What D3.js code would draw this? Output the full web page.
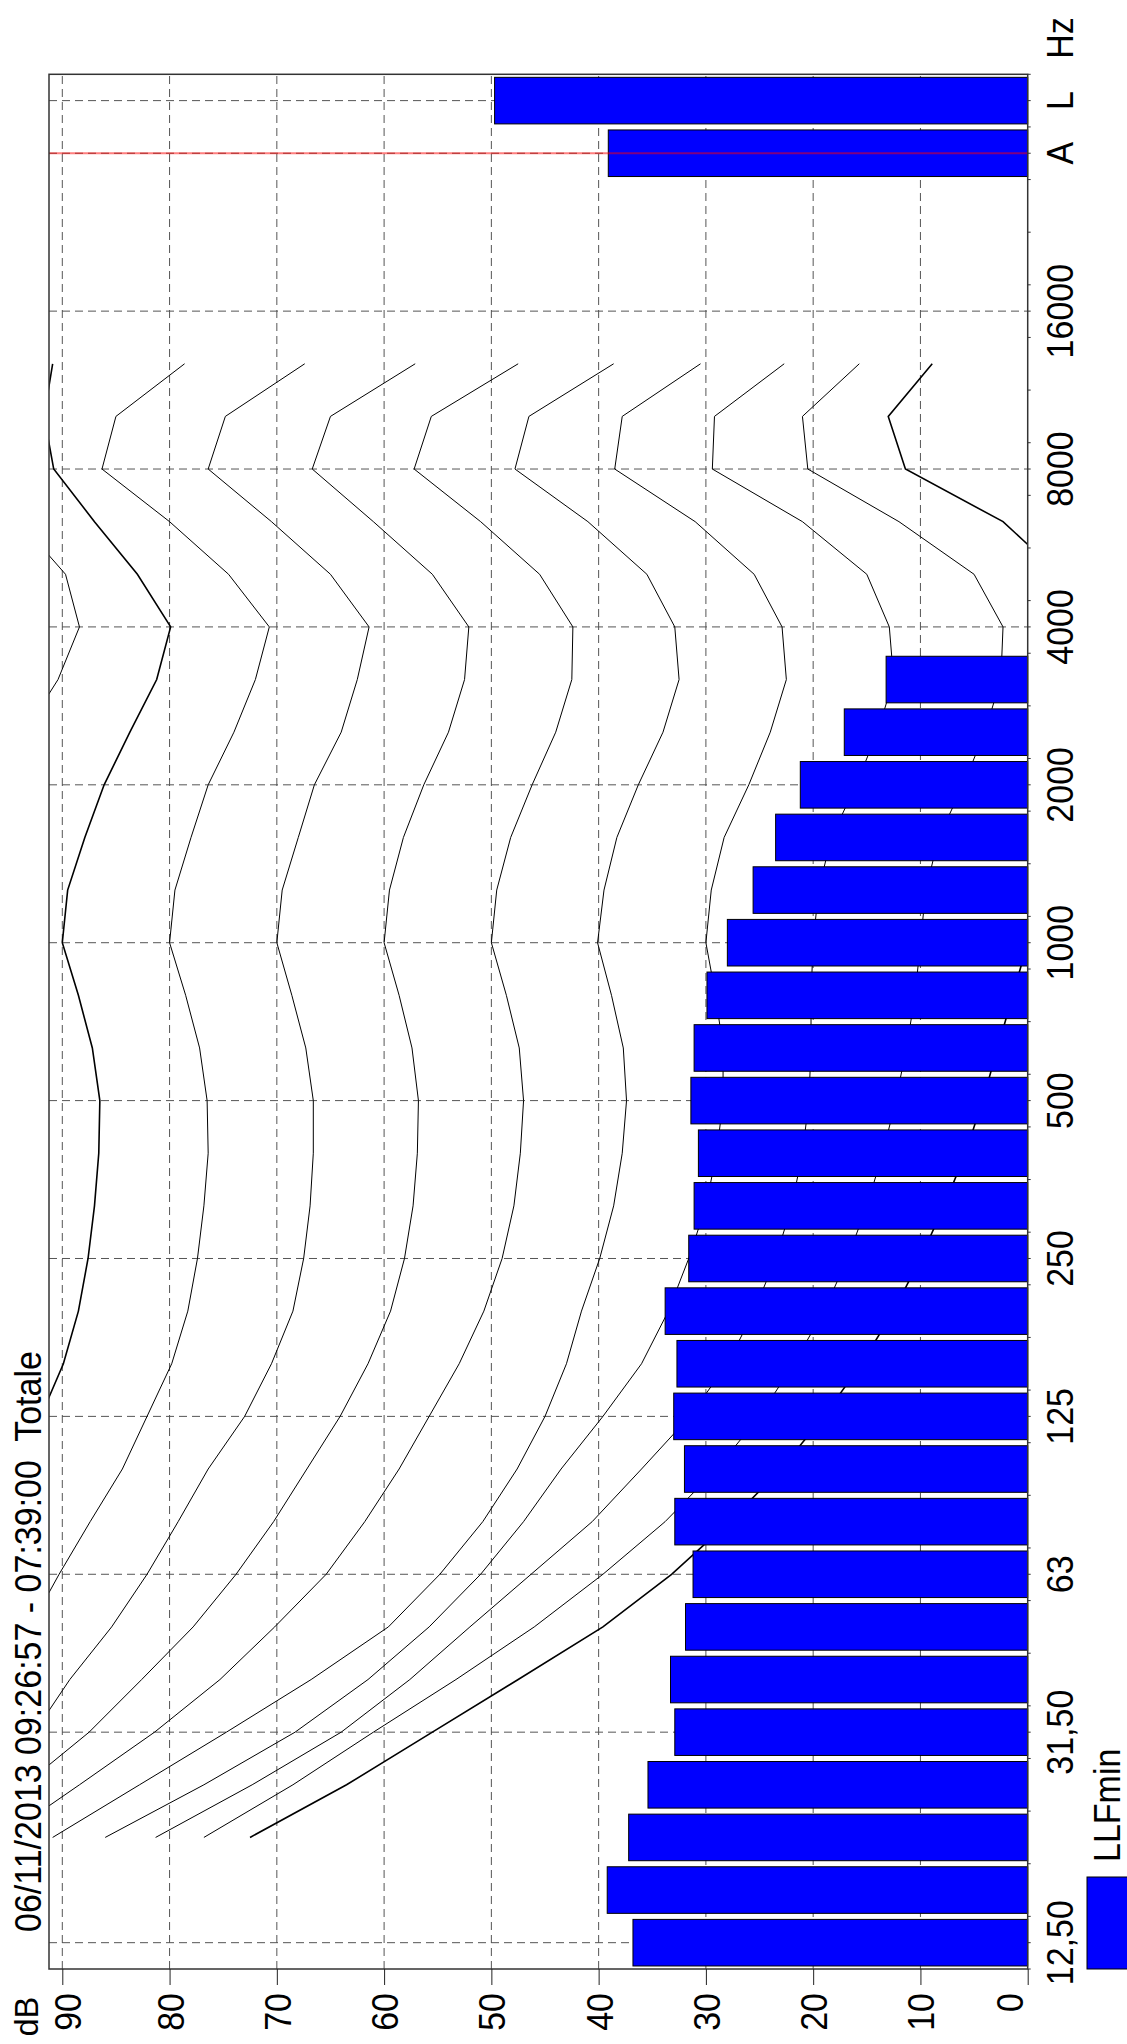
<!DOCTYPE html>
<html lang="it">
<head>
<meta charset="UTF-8">
<title>LLFmin</title>
<script src="https://d3js.org/d3.v7.min.js"></script>
<style>
  body { margin: 0; background: #fff; }
  svg { display: block; }
  text { font-family: "Liberation Sans", Arial, sans-serif; fill: #000; }
</style>
</head>
<body>
<svg id="chart" width="1127" height="2044"></svg>
<script>
// bande in terzi d'ottava: indice 0 = 12,5 Hz ... 31 = 16000 Hz, 34 = A, 35 = L
const bandLabels = ['12,50', '31,50', '63', '125', '250', '500', '1000', '2000', '4000', '8000', '16000', 'A', 'L'];
const bandIndex = [0, 4, 7, 10, 13, 16, 19, 22, 25, 28, 31, 34, 35];
const dbTicks = [0, 10, 20, 30, 40, 50, 60, 70, 80, 90];

// LLFmin, 12,5 Hz .. 3150 Hz
const llfMin = [36.8, 39.2, 37.2, 35.4, 32.9, 33.3, 31.9, 31.2, 32.9, 32.0, 33.0, 32.7, 33.8,
                31.6, 31.1, 30.7, 31.4, 31.1, 29.9, 28.0, 25.6, 23.5, 21.2, 17.1, 13.2];
const totalLabels = ['A', 'L'];
const totalValues = [39.1, 49.7];

// isofoniche, 20 Hz .. 12500 Hz (indici 2..30)
const iso0   = [72.5, 63.5, 55.5, 47.5, 39.6, 33.2, 27.8, 23, 19, 15.5, 12.5, 10, 7.8, 5.8, 4.2, 2.8, 1.4, 0, -0.5, -1.7, -4, -6, -7.5, -8, -3, 2.3, 11.4, 13, 8.9];
const iso10  = [76.8, 68.5, 61, 53.3, 46, 39.6, 33.8, 29, 25, 21.8, 19, 16.8, 15, 13.5, 12.3, 11.3, 10.5, 10, 9.5, 8.3, 6, 4, 2.5, 2.3, 5, 12, 20.5, 21, 15.7];
const iso20  = [81.3, 72.3, 64, 57.6, 52, 46.3, 40.6, 36, 31.5, 28, 25.5, 23.5, 22, 21, 20.4, 20.2, 20.2, 20, 19.5, 18.3, 16, 14, 12.5, 12.9, 15, 21, 29.4, 29.2, 22.7];
const iso30  = [86, 76.8, 68.3, 61.5, 55.8, 51, 47, 43.5, 39.6, 36, 33.5, 31.6, 30, 29, 28.4, 28.4, 29.1, 30, 29.5, 28.3, 26, 24, 22.5, 22.9, 25.5, 31, 38.5, 37.8, 30.5];
const iso40  = [90.9, 82.8, 74.7, 66.8, 59.6, 54.8, 50.8, 47.6, 45, 43, 41.6, 39.9, 38.6, 37.8, 37.4, 37.7, 38.8, 40.1, 39.5, 38.3, 36.3, 34, 32.5, 32.9, 35.5, 41, 47.8, 46.5, 38.6];
const iso50  = [95.5, 88.4, 81.4, 75.3, 70.2, 65.4, 61.8, 58.6, 55.8, 53, 50.7, 49, 47.9, 47.3, 47, 47.4, 48.6, 50, 49.5, 48.2, 46.2, 44, 42.5, 42.4, 45.5, 51, 57.2, 55.6, 47.5];
const iso60  = [99, 93.5, 87.5, 82.6, 77.8, 73.8, 70.3, 67.2, 64.1, 61.5, 59.4, 58.1, 57.3, 56.9, 56.8, 57.4, 58.6, 60, 59.5, 58.2, 56.3, 54, 52.5, 52.1, 55.5, 61, 66.7, 65, 57.1];
const iso70  = [100, 96, 92.6, 89.3, 85.4, 82.1, 79.2, 76.4, 73, 70.5, 68.5, 67.5, 66.9, 66.6, 66.6, 67.3, 68.6, 70, 69.5, 68, 66.5, 64, 62.5, 61.4, 65, 70.5, 76.4, 74.8, 67.4];
const iso80  = [110, 105, 100, 96, 93, 90.3, 87.4, 84.4, 82.1, 79.8, 78.3, 77.4, 76.8, 76.4, 76.5, 77.2, 78.5, 80, 79.5, 78, 76.4, 74, 72, 70.7, 74.5, 80, 86.3, 85, 78.6];
const iso90  = [116, 112, 107, 103, 100, 98, 96, 94, 92, 89.9, 88.5, 87.6, 87, 86.6, 86.5, 87.2, 88.5, 90, 89.5, 87.9, 86.1, 83.7, 81.2, 79.9, 83, 87, 90.8, 91.7, 90.9];
const iso100 = [122, 118, 114, 110, 107, 105, 103, 101, 100, 99, 98, 97.5, 97, 96.5, 96.4, 97, 98.5, 100, 99.5, 98, 96, 93.5, 90.4, 88.4, 89.7, 94, 98, 100, 100];
const contours = [iso0, iso10, iso20, iso30, iso40, iso50, iso60, iso70, iso80, iso90, iso100];

// il grafico viene disegnato "in piano" e poi ruotato di -90 gradi
const W = 2044;
const plot = { left: 75, right: 1969.7, top: 49, bottom: 1027.7 };

const x = d3.scaleLinear().domain([-0.5, 35.5]).range([plot.left, plot.right]);
const y = d3.scaleLinear().domain([0, 91.24]).range([plot.bottom, plot.top]);
const bw = (x(1) - x(0)) * 0.885;

const svg = d3.select('#chart');
svg.append('rect').attr('width', 1127).attr('height', 2044).attr('fill', '#fff');

const g = svg.append('g').attr('transform', `translate(0,${W}) rotate(-90)`);

g.append('clipPath').attr('id', 'clip')
  .append('rect')
  .attr('x', plot.left).attr('y', plot.top)
  .attr('width', plot.right - plot.left).attr('height', plot.bottom - plot.top);

// griglia
g.append('g').selectAll('line').data(dbTicks.slice(1)).join('line')
  .attr('x1', plot.left).attr('x2', plot.right)
  .attr('y1', d => y(d)).attr('y2', d => y(d))
  .attr('stroke', '#555').attr('stroke-dasharray', '8,5');
g.append('g').selectAll('line').data(bandIndex).join('line')
  .attr('x1', d => x(d)).attr('x2', d => x(d))
  .attr('y1', plot.top).attr('y2', plot.bottom)
  .attr('stroke', '#555').attr('stroke-dasharray', '8,5');

// isofoniche
const line = d3.line().x((d, i) => x(i + 2)).y(d => y(d));
g.append('g').attr('clip-path', 'url(#clip)')
  .selectAll('path').data(contours).join('path')
  .attr('d', line)
  .attr('fill', 'none')
  .attr('stroke', '#000')
  .attr('stroke-width', (d, i) => (i === 0 || i === 9) ? 1.6 : 1);

// barre
g.append('g').selectAll('rect').data(llfMin).join('rect')
  .attr('x', (d, i) => x(i) - bw / 2)
  .attr('width', bw)
  .attr('y', d => y(d))
  .attr('height', d => y(0) - y(d))
  .attr('fill', '#0000ff').attr('stroke', '#000').attr('stroke-width', 1);
g.append('g').selectAll('rect').data(totalValues).join('rect')
  .attr('x', (d, i) => x(bandIndex[bandLabels.indexOf(totalLabels[i])]) - bw / 2)
  .attr('width', bw)
  .attr('y', d => y(d))
  .attr('height', d => y(0) - y(d))
  .attr('fill', '#0000ff').attr('stroke', '#000').attr('stroke-width', 1);

// linea rossa sulla banda A
g.append('line')
  .attr('x1', x(34)).attr('x2', x(34))
  .attr('y1', plot.top).attr('y2', plot.bottom)
  .attr('stroke', 'rgba(255,0,0,0.5)').attr('stroke-width', 2);

// cornice
g.append('rect')
  .attr('x', plot.left).attr('y', plot.top)
  .attr('width', plot.right - plot.left).attr('height', plot.bottom - plot.top)
  .attr('fill', 'none').attr('stroke', '#333').attr('stroke-width', 1.5);

// asse dB
const yAxis = g.append('g').attr('transform', `translate(${plot.left},0)`)
  .call(d3.axisLeft(y).tickValues(dbTicks).tickSize(16).tickPadding(8).tickFormat(d3.format('d')));
yAxis.select('.domain').remove();
yAxis.selectAll('.tick line').attr('stroke', '#222');
yAxis.selectAll('.tick text')
  .attr('font-size', 34)
  .attr('font-family', '"Liberation Sans", Arial, sans-serif')
  .attr('dy', '0.36em')
  .attr('transform', d => `translate(0,${d === 0 ? -19 : d === 90 ? 5 : 0}) scale(1,1.1)`);

g.append('text').text('dB')
  .attr('text-anchor', 'end').attr('font-size', 32)
  .attr('transform', 'translate(47,38) scale(1,1.05)');

// tacche piccole sull'asse delle frequenze
const smallTicks = d3.range(-0.5, 36, 1).concat(bandIndex);
g.append('g').selectAll('line').data(smallTicks).join('line')
  .attr('x1', d => x(d)).attr('x2', d => x(d))
  .attr('y1', plot.bottom).attr('y2', plot.bottom + 3)
  .attr('stroke', '#333');

// etichette frequenze
g.append('g').selectAll('text').data(bandLabels).join('text')
  .text(d => d)
  .attr('text-anchor', 'middle')
  .attr('font-size', 34)
  .attr('transform', (d, i) => `translate(${x(bandIndex[i])},1073) scale(1,1.1)`);
g.append('text').text('Hz')
  .attr('text-anchor', 'middle').attr('font-size', 34)
  .attr('transform', 'translate(2006,1073) scale(1,1.1)');

// titolo
g.append('text').text('06/11/2013 09:26:57 - 07:39:00  Totale')
  .attr('font-size', 34)
  .style('white-space', 'pre')
  .attr('transform', 'translate(112,41) scale(1,1.1)');

// legenda
g.append('rect')
  .attr('x', 75).attr('y', 1087).attr('width', 92).attr('height', 60)
  .attr('fill', '#0000ff').attr('stroke', '#000');
g.append('text').text('LLFmin')
  .attr('font-size', 34)
  .attr('transform', 'translate(182,1120) scale(1,1.1)');
</script>
</body>
</html>
